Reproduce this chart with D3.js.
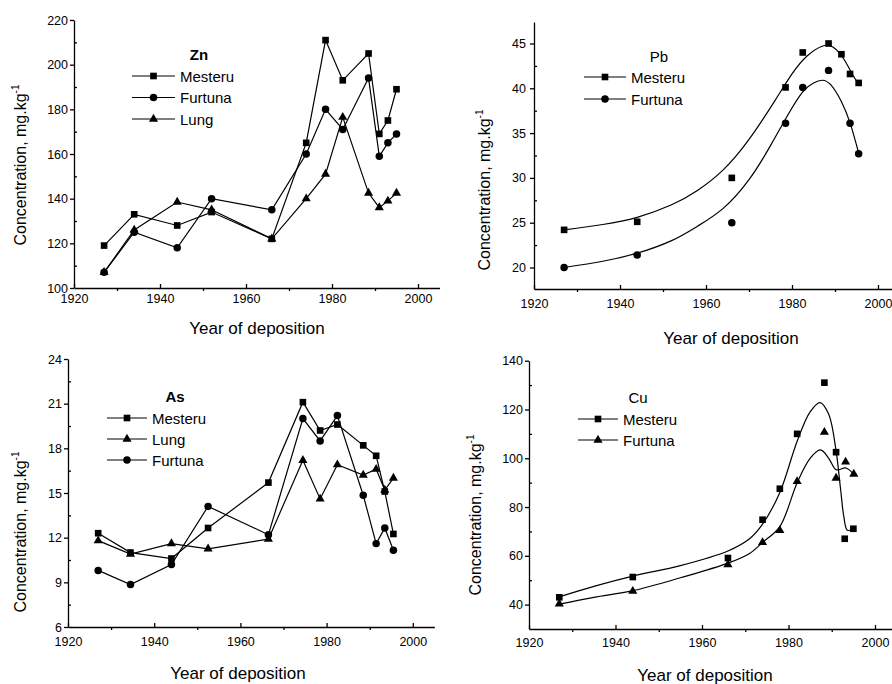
<!DOCTYPE html>
<html>
<head>
<meta charset="utf-8">
<script src="https://cdn.jsdelivr.net/npm/d3@7"></script>
<style>
    body { margin: 0; background: #fff; }
    svg { display: block; font-family: "Liberation Sans", Arial, sans-serif; }
    .axis path, .axis line { stroke: #000; stroke-width: 1.3; }
    .axis text { font-size: 12.5px; fill: #000; }
</style>
</head>
<body>
<div id="chart"></div>
<script>

// ---- data ----

// Zn
const znYears = [1927, 1934, 1944, 1952, 1966, 1974, 1978.5, 1982.5, 1988.5, 1991, 1993, 1995];
const znMesteru = [119, 133, 128, 134, 122, 165, 211, 193, 205, 169, 175, 189];
const znFurtuna = [107, 125, 118, 140, 135, 160, 180, 171, 194, 159, 165, 169];
const znLung = [107, 126, 138.5, 135, 122, 140, 151, 176.5, 142.5, 136, 139, 142.5];

// Pb (points + fitted curves)
const pbMesteruYears = [1927, 1944, 1966, 1978.5, 1982.5, 1988.5, 1991.5, 1993.5, 1995.5];
const pbMesteru = [24.2, 25.1, 30, 40.1, 44, 45, 43.8, 41.6, 40.6];
const pbFurtunaYears = [1927, 1944, 1966, 1978.5, 1982.5, 1988.5, 1993.5, 1995.5];
const pbFurtuna = [20, 21.4, 25, 36.1, 40.1, 42, 36.1, 32.7];
const pbMesteruFitYears = [1927, 1936, 1944, 1952, 1958, 1964, 1970, 1976, 1980, 1983.5, 1987, 1989.5, 1992, 1994, 1995.6];
const pbMesteruFit = [24.2, 24.8, 25.6, 27.0, 28.6, 30.9, 34.3, 38.6, 41.6, 43.6, 44.7, 44.6, 43.3, 41.6, 40.4];
const pbFurtunaFitYears = [1927, 1936, 1944, 1952, 1958, 1964, 1970, 1975, 1979, 1982.5, 1985, 1987, 1989, 1991.5, 1993.6, 1995.6];
const pbFurtunaFit = [20.0, 20.7, 21.6, 23.0, 24.6, 26.6, 29.8, 33.6, 37.0, 39.6, 40.6, 40.9, 40.4, 38.5, 36.0, 32.6];

// As
const asYears = [1927, 1934.5, 1944, 1952.5, 1966.5, 1974.5, 1978.5, 1982.5, 1988.5, 1991.5, 1993.5, 1995.5];
const asMesteru = [12.3, 11.0, 10.6, 12.65, 15.7, 21.1, 19.2, 19.6, 18.2, 17.5, 15.1, 12.25];
const asLung = [11.8, 10.9, 11.6, 11.25, 11.9, 17.2, 14.6, 16.9, 16.2, 16.6, 15.2, 16.0];
const asFurtuna = [9.8, 8.85, 10.2, 14.1, 12.2, 20.0, 18.5, 20.2, 14.85, 11.6, 12.65, 11.15];

// Cu (points + fitted curves)
const cuYears = [1927, 1944, 1966, 1974, 1978, 1982, 1988.3, 1991, 1993, 1995];
const cuMesteru = [43, 51.3, 59.1, 74.8, 87.5, 110, 131, 102.5, 67, 71.1];
const cuFurtunaYears = [1927, 1944, 1966, 1974, 1978, 1982, 1988.3, 1991, 1993.2, 1995.1];
const cuFurtuna = [40.3, 45.5, 56.4, 65.5, 70.4, 90.5, 110.7, 91.9, 98.5, 93.5];
const cuMesteruFitYears = [1927, 1935, 1944, 1955, 1966, 1971, 1974, 1978, 1982, 1985, 1987.3, 1989.3, 1991, 1992, 1992.8, 1993.6, 1995];
const cuMesteruFit = [43.2, 47.5, 51.7, 56, 62, 67, 73, 86, 107, 119, 122.8, 118, 103, 88, 76, 70.5, 71];
const cuFurtunaFitYears = [1927, 1935, 1944, 1955, 1966, 1971, 1974, 1978, 1982, 1985, 1987.4, 1989.3, 1991, 1993.3, 1995];
const cuFurtunaFit = [40.2, 43, 45.7, 51, 57, 61, 65.5, 72, 90, 100, 103.4, 100, 95.3, 96, 93.5];

const xTicks = [1920, 1940, 1960, 1980, 2000];
const xMinor = [1930, 1950, 1970, 1990];

const zip = (xs, ys) => xs.map((x, i) => ({x: x, y: ys[i]}));

/* * * * * * * * * * * * * *
*      class LinePanel     *
* * * * * * * * * * * * * */

class LinePanel {

    constructor(svg, cfg) {
        this.svg = svg;
        this.cfg = cfg;
        this.initVis();
    }

    initVis() {
        let vis = this;
        let c = vis.cfg;

        vis.g = vis.svg.append("g").attr("class", "panel");

        vis.x = d3.scaleLinear()
            .domain([1920, 2005])
            .range([c.left, c.left + 85 * c.pxPerYear]);

        vis.y = d3.scaleLinear()
            .domain(c.yDomain)
            .range([c.bottom, c.top]);

        vis.drawAxes();
        vis.drawSeries();
        vis.drawLegend();
    }

    drawAxes() {
        let vis = this;
        let c = vis.cfg;

        // x axis: major ticks point up, minor point down
        vis.g.append("g")
            .attr("class", "axis")
            .attr("transform", `translate(0,${c.bottom})`)
            .call(d3.axisBottom(vis.x).tickValues(xTicks).tickFormat(d3.format("d"))
                .tickSizeInner(-4).tickSizeOuter(0).tickPadding(c.xPad));

        vis.g.append("g")
            .attr("class", "axis")
            .attr("transform", `translate(0,${c.bottom})`)
            .call(d3.axisBottom(vis.x).tickValues(xMinor).tickFormat("").tickSize(3).tickSizeOuter(0))
            .select(".domain").remove();

        // y axis
        vis.g.append("g")
            .attr("class", "axis")
            .attr("transform", `translate(${c.left},0)`)
            .call(d3.axisLeft(vis.y).tickValues(c.yTicks).tickFormat(d3.format("d"))
                .tickSizeInner(4).tickSizeOuter(0).tickPadding(c.yPad));

        vis.g.append("g")
            .attr("class", "axis")
            .attr("transform", `translate(${c.left},0)`)
            .call(d3.axisLeft(vis.y).tickValues(c.yMinor).tickFormat("").tickSize(-3).tickSizeOuter(0))
            .select(".domain").remove();

        // titles
        vis.g.append("text")
            .attr("x", c.xTitle[0])
            .attr("y", c.xTitle[1])
            .attr("text-anchor", "middle")
            .style("font-size", "17px")
            .text("Year of deposition");

        let yt = vis.g.append("text")
            .attr("transform", `translate(${c.yTitle[0]},${c.yTitle[1]}) rotate(-90)`)
            .attr("text-anchor", "middle")
            .style("font-size", "16px");
        yt.append("tspan").text("Concentration, mg.kg");
        yt.append("tspan").attr("dy", -7).style("font-size", "10px").text("-1");
    }

    marker(d3sel, shape, x, y) {
        let types = {square: d3.symbolSquare, circle: d3.symbolCircle, triangle: d3.symbolTriangle};
        let sizes = {square: 44, circle: 44, triangle: 36};
        d3sel.append("path")
            .attr("d", d3.symbol().type(types[shape]).size(sizes[shape]))
            .attr("transform", `translate(${x},${y})`)
            .attr("fill", "#000");
    }

    drawSeries() {
        let vis = this;

        let line = d3.line()
            .x(d => vis.x(d.x))
            .y(d => vis.y(d.y));

        let smooth = d3.line()
            .x(d => vis.x(d.x))
            .y(d => vis.y(d.y))
            .curve(vis.cfg.fitCurve || d3.curveCatmullRom.alpha(0.5));

        vis.cfg.series.forEach(s => {
            let pts = zip(s.years, s.values);
            vis.g.append("path")
                .attr("d", s.fit ? smooth(s.fit) : line(pts))
                .attr("fill", "none")
                .attr("stroke", "#000")
                .attr("stroke-width", 1.2);
            pts.forEach(p => vis.marker(vis.g, s.marker, vis.x(p.x), vis.y(p.y)));
        });
    }

    drawLegend() {
        let vis = this;
        let L = vis.cfg.legend;

        vis.g.append("text")
            .attr("x", L.titleX)
            .attr("y", L.titleY)
            .attr("text-anchor", "middle")
            .style("font-size", "15px")
            .style("font-weight", L.bold ? "bold" : "normal")
            .text(vis.cfg.element);

        vis.cfg.series.forEach((s, i) => {
            let yy = L.rowY + i * L.rowGap;
            vis.g.append("line")
                .attr("x1", L.x1).attr("x2", L.x2)
                .attr("y1", yy).attr("y2", yy)
                .attr("stroke", "#000")
                .attr("stroke-width", 1.2);
            vis.marker(vis.g, s.marker, (L.x1 + L.x2) / 2, yy);
            vis.g.append("text")
                .attr("x", L.x2 + 5)
                .attr("y", yy + 5.5)
                .style("font-size", "15px")
                .text(s.name);
        });
    }
}

const svg = d3.select("#chart").append("svg")
    .attr("width", 892)
    .attr("height", 684);

const panels = [
    {
        element: "Zn", left: 74, pxPerYear: 4.3, top: 20, bottom: 288, xPad: 6, yPad: 2,
        yDomain: [100, 220], yTicks: d3.range(100, 221, 20), yMinor: d3.range(110, 220, 20),
        xTitle: [257, 334], yTitle: [26, 165],
        legend: {titleX: 199, titleY: 60, bold: true, rowY: 76, rowGap: 21.5, x1: 132, x2: 175},
        series: [
            {name: "Mesteru", marker: "square", years: znYears, values: znMesteru},
            {name: "Furtuna", marker: "circle", years: znYears, values: znFurtuna},
            {name: "Lung", marker: "triangle", years: znYears, values: znLung}
        ]
    },
    {
        element: "Pb", left: 534, pxPerYear: 4.3, top: 22, bottom: 289, xPad: 10, yPad: 4,
        yDomain: [17.6, 47.4], yTicks: d3.range(20, 46, 5), yMinor: d3.range(22.5, 46, 5),
        xTitle: [731, 344], yTitle: [490, 190], fitCurve: d3.curveNatural,
        legend: {titleX: 659, titleY: 62, bold: false, rowY: 77, rowGap: 22, x1: 584, x2: 626},
        series: [
            {name: "Mesteru", marker: "square", years: pbMesteruYears, values: pbMesteru,
                fit: zip(pbMesteruFitYears, pbMesteruFit)},
            {name: "Furtuna", marker: "circle", years: pbFurtunaYears, values: pbFurtuna,
                fit: zip(pbFurtunaFitYears, pbFurtunaFit)}
        ]
    },
    {
        element: "As", left: 68, pxPerYear: 4.31, top: 359, bottom: 627, xPad: 10, yPad: 2,
        yDomain: [6, 24], yTicks: d3.range(6, 25, 3), yMinor: d3.range(7.5, 24, 3),
        xTitle: [238, 679], yTitle: [26, 532],
        legend: {titleX: 175, titleY: 402, bold: true, rowY: 418, rowGap: 21, x1: 107, x2: 147},
        series: [
            {name: "Mesteru", marker: "square", years: asYears, values: asMesteru},
            {name: "Lung", marker: "triangle", years: asYears, values: asLung},
            {name: "Furtuna", marker: "circle", years: asYears, values: asFurtuna}
        ]
    },
    {
        element: "Cu", left: 529, pxPerYear: 4.325, top: 360.7, bottom: 629, xPad: 9, yPad: 2,
        yDomain: [30, 140], yTicks: d3.range(40, 141, 20), yMinor: d3.range(50, 140, 20),
        xTitle: [705, 681], yTitle: [481, 515],
        legend: {titleX: 638, titleY: 403, bold: false, rowY: 419, rowGap: 21, x1: 578, x2: 618},
        series: [
            {name: "Mesteru", marker: "square", years: cuYears, values: cuMesteru,
                fit: zip(cuMesteruFitYears, cuMesteruFit)},
            {name: "Furtuna", marker: "triangle", years: cuFurtunaYears, values: cuFurtuna,
                fit: zip(cuFurtunaFitYears, cuFurtunaFit)}
        ]
    }
];

panels.forEach(p => new LinePanel(svg, p));

</script>
</body>
</html>
